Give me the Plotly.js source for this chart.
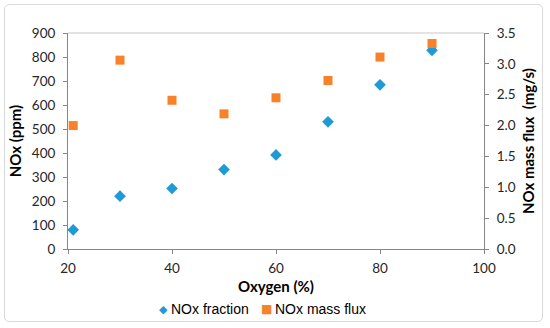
<!DOCTYPE html>
<html><head><meta charset="utf-8">
<script src="https://cdn.plot.ly/plotly-3.0.1.min.js"></script>
<style>
html,body{margin:0;padding:0;background:#fff;}
#wrap{position:relative;width:550px;height:328px;}
#chart{position:absolute;left:0;top:0;width:550px;height:328px;}
#frame{position:absolute;left:4px;top:4px;width:537px;height:316px;border:1.5px solid #d9d9d9;border-radius:5px;pointer-events:none;}
</style></head>
<body>
<div id="wrap"><div id="chart"></div><div id="frame"></div></div>
<script>
const oxygen = [21, 30, 40, 50, 60, 70, 80, 90];
const noxFraction = [80, 220, 252, 331, 392, 530, 684, 828];
const noxMassFlux = [2.0, 3.06, 2.41, 2.19, 2.45, 2.73, 3.11, 3.33];
const seriesNames = ['NOx fraction', 'NOx mass flux'];
const seriesColors = ['#1f9ad6', '#f7822a'];
const leftTicks = [0,100,200,300,400,500,600,700,800,900];
const rightTicks = [0,0.5,1,1.5,2,2.5,3,3.5];
const rightTickText = ['0.0','0.5','1.0','1.5','2.0','2.5','3.0','3.5'];

const tickFont = {family: 'Lato, "Open Sans", sans-serif', size: 13.5, color: '#262626'};
const titleFont = {family: 'Lato, "Open Sans", sans-serif', size: 15, color: '#000', weight: 'bold'};
const legFont = {family: '"Liberation Sans", Arial, sans-serif', size: 14, color: '#000'};

const traces = [
  {x: oxygen, y: noxFraction, name: seriesNames[0], type: 'scatter', mode: 'markers',
   marker: {symbol: 'diamond', size: 9, color: seriesColors[0]}, yaxis: 'y'},
  {x: oxygen, y: noxMassFlux, name: seriesNames[1], type: 'scatter', mode: 'markers',
   marker: {symbol: 'square', size: 9, color: seriesColors[1]}, yaxis: 'y2'}
];

// legend built as annotations (compact symbol-to-text spacing)
const px = v => (v - 68) / 416;
const legY = (249 - 309) / 216;
const annotations = [
  {text: '◆', x: px(163), y: legY, font: {family: 'DejaVu Sans', size: 11, color: seriesColors[0]}},
  {text: seriesNames[0], x: px(169), y: legY, xanchor: 'left', font: legFont},
  {text: '■', x: px(266), y: legY, font: {family: 'DejaVu Sans', size: 12, color: seriesColors[1]}},
  {text: seriesNames[1], x: px(273), y: legY, xanchor: 'left', font: legFont}
].map(a => Object.assign({xref: 'paper', yref: 'paper', showarrow: false, yanchor: 'middle', xanchor: a.xanchor || 'center'}, a));

const layout = {
  width: 550, height: 328,
  margin: {l: 68, r: 66, t: 33, b: 79},
  paper_bgcolor: '#fff', plot_bgcolor: '#fff',
  showlegend: false,
  annotations: annotations,
  xaxis: {range: [20, 100], tickvals: [20,40,60,80,100], showgrid: false, zeroline: false,
          showline: true, linecolor: '#868686', linewidth: 1, mirror: false,
          ticks: 'outside', ticklen: 4, tickcolor: '#868686', tickfont: tickFont, ticklabelstandoff: 3,
          title: {text: 'Oxygen (%)', font: titleFont, standoff: 6}},
  yaxis: {range: [0, 900], tickvals: leftTicks, showgrid: false, zeroline: false,
          showline: true, linecolor: '#868686', linewidth: 1,
          ticks: 'outside', ticklen: 4, tickcolor: '#868686', tickfont: tickFont, ticklabelstandoff: 5,
          title: {text: 'NOx (ppm)', font: titleFont, standoff: 6}},
  yaxis2: {range: [0, 3.5], tickvals: rightTicks, ticktext: rightTickText, overlaying: 'y', side: 'right',
          showgrid: false, zeroline: false, showline: true, linecolor: '#868686', linewidth: 1,
          ticks: 'outside', ticklen: 4, tickcolor: '#868686', tickfont: tickFont, ticklabelstandoff: 5,
          title: {text: 'NOx mass flux  (mg/s)', font: titleFont, standoff: 8}},
  shapes: [{type: 'line', xref: 'paper', yref: 'paper', x0: 0, x1: 1, y0: 1, y1: 1,
            line: {color: '#c8c8c8', width: 1}}]
};
Plotly.newPlot('chart', traces, layout, {staticPlot: true, displayModeBar: false});
</script>
</body></html>
